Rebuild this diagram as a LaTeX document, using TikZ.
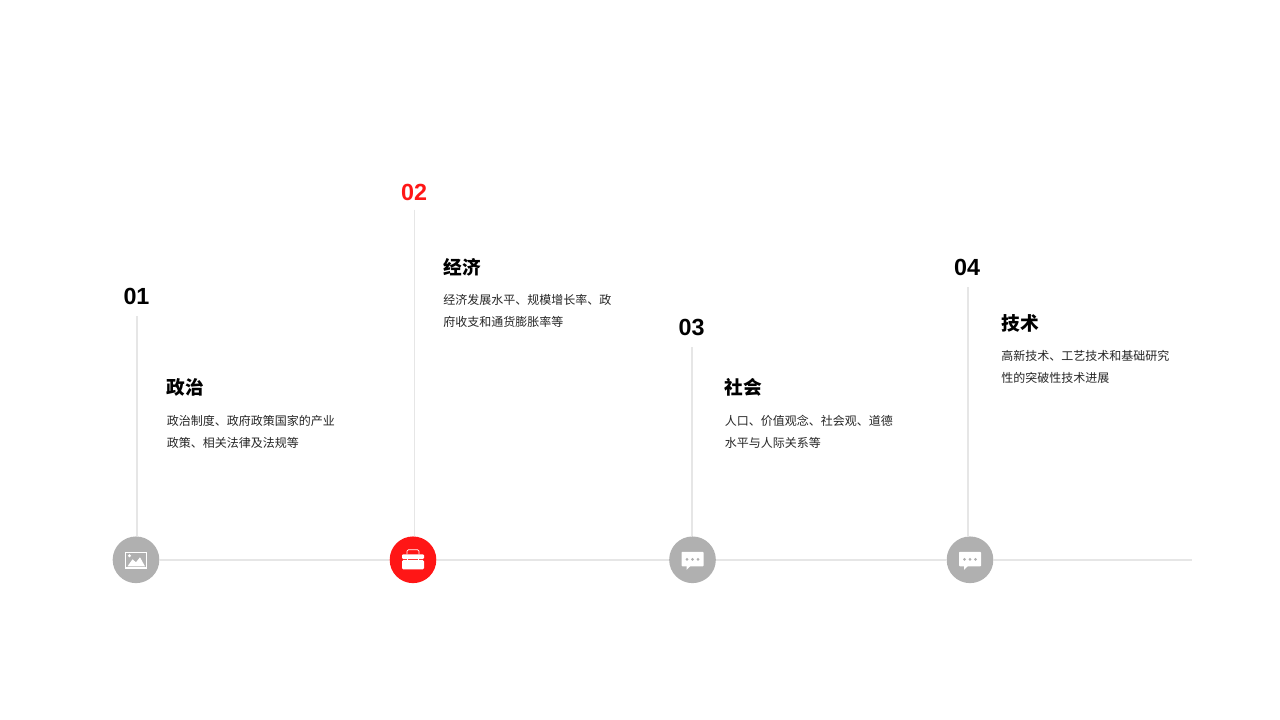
\documentclass[tikz,border=0pt]{standalone}
\usepackage{fontspec}
\setmainfont{Liberation Sans}
\newfontfamily\cjk{Noto Sans CJK SC}
\definecolor{redc}{HTML}{FF1616}
\definecolor{greyc}{HTML}{B0B0B0}
\definecolor{linec}{HTML}{E6E6E6}
\tikzset{
  numlabel/.style={inner sep=0pt,anchor=base,font=\fontsize{17.5pt}{20pt}\selectfont\bfseries,text=black},
  titlelabel/.style={inner sep=0pt,anchor=base west,font=\cjk\fontsize{14pt}{16pt}\selectfont\bfseries,text=black},
  bodylabel/.style={inner sep=0pt,anchor=base west,font=\cjk\fontsize{9pt}{11pt}\selectfont,text=black!85},
  dot/.style={circle,inner sep=0pt,minimum size=35pt,fill=greyc,draw=none},
  rail/.style={draw=linec,line width=1.5pt},
  stem/.style={draw=linec,line width=1.1pt},
}
\newcommand{\chaticon}[1]{%
  \begin{scope}[shift={(#1)}]
    \fill[white,rounded corners=0.6pt] (-11,-8) rectangle (11,6.5);
    \fill[white] (-6,6) -- (-6,10) -- (-2,6) -- cycle;
    \foreach \dx in {-5.5,0,5.5} \fill[greyc] (\dx,-0.5) circle (1.5);
  \end{scope}}
\begin{document}
\begin{tikzpicture}[x=0.75pt,y=-0.75pt]
\useasboundingbox (0,0) rectangle (1280,720);
\fill[white] (0,0) rectangle (1280,720);
% free ends
\coordinate (railend) at (1192,559.8);
\coordinate (s1) at (137,316);
\coordinate (s2) at (414.6,210);
\coordinate (s3) at (692,347);
\coordinate (s4) at (968,287);
% circles
\node[dot] (c1) at (136,559.8) {};
\node[dot,fill=redc] (c2) at (413,559.8) {};
\node[dot] (c3) at (692.5,559.8) {};
\node[dot] (c4) at (970,559.8) {};
% rail and stems
\draw[rail] (c1) -- (c2);
\draw[rail] (c2) -- (c3);
\draw[rail] (c3) -- (c4);
\draw[rail] (c4) -- (railend);
\draw[stem] (s1) -- (s1 |- c1.north);
\draw[stem] (s2) -- (s2 |- c2.north);
\draw[stem] (s3) -- (s3 |- c3.north);
\draw[stem] (s4) -- (s4 |- c4.north);
% picture icon
\begin{scope}[shift={(c1.center)}]
  \fill[white] (-11,-8) rectangle (11,9);
  \fill[greyc] (-10,-7) rectangle (10,7.5);
  \fill[white] (-8.5,6.5) -- (-3.5,-0.5) -- (0,2.5) -- (4,-2.5) -- (9,6.5) -- cycle;
  \fill[white] (-6.5,-4) circle (1.6);
\end{scope}
% briefcase icon
\begin{scope}[shift={(c2.center)}]
  \fill[white,rounded corners=0.8pt] (-11,-5.5) rectangle (11,-0.8);
  \fill[white,rounded corners=0.8pt] (-11,0.4) rectangle (11,9.5);
  \draw[white,line width=0.5pt,rounded corners=1pt] (-6,-5.5) -- (-6,-10) -- (6,-10) -- (6,-5.5);
  \fill[white] (-6,-1) rectangle (-5,2);
  \fill[white] (5,-1) rectangle (6,2);
\end{scope}
\chaticon{c3.center}
\chaticon{c4.center}
% labels
\node[numlabel] (n1) at (136.5,304) {01};
\node[numlabel,text=redc] (n2) at (414,200.7) {02};
\node[numlabel] (n3) at (691.5,335.7) {03};
\node[numlabel] (n4) at (967,275) {04};
\node[titlelabel] (t1) at (166.5,394.5) {政治};
\node[titlelabel] (t2) at (443.5,274) {经济};
\node[titlelabel] (t3) at (724.5,394.5) {社会};
\node[titlelabel] (t4) at (1001.5,330) {技术};
\node[bodylabel] (b1a) at (166.5,425) {政治制度、政府政策国家的产业};
\node[bodylabel] (b1b) at (166.5,447) {政策、相关法律及法规等};
\node[bodylabel] (b2a) at (443,304) {经济发展水平、规模增长率、政};
\node[bodylabel] (b2b) at (443,326) {府收支和通货膨胀率等};
\node[bodylabel] (b3a) at (724.5,425) {人口、价值观念、社会观、道德};
\node[bodylabel] (b3b) at (724.5,447) {水平与人际关系等};
\node[bodylabel] (b4a) at (1001,360) {高新技术、工艺技术和基础研究};
\node[bodylabel] (b4b) at (1001,382) {性的突破性技术进展};
\end{tikzpicture}
\end{document}
